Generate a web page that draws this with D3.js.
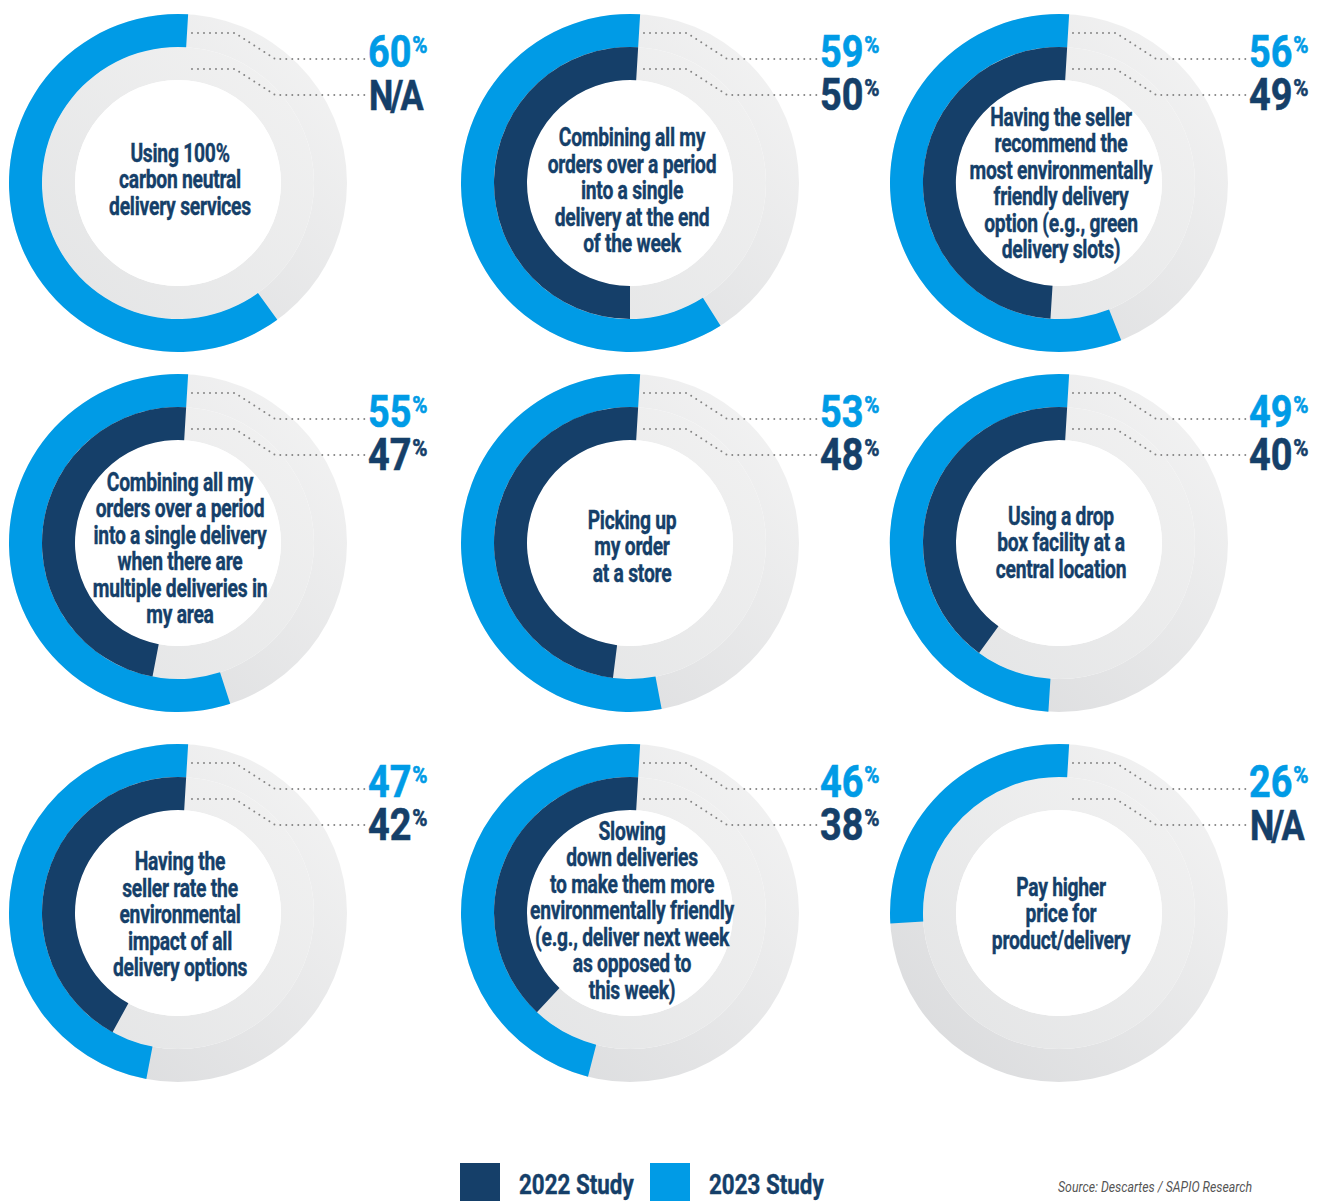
<!DOCTYPE html>
<html lang="en">
<head>
    <meta charset="UTF-8">
    <title>Sustainable delivery options</title>
    <script src="https://d3js.org/d3.v7.min.js"></script>
    <style>
        body { margin: 0; background: #fff; }
        text { font-family: Roboto, "Noto Sans", sans-serif; }
    </style>
</head>
<body>
    <svg id="chart"></svg>

    <script>
        const options = [
            ["Using 100%", "carbon neutral", "delivery services"],
            ["Combining all my", "orders over a period", "into a single", "delivery at the end", "of the week"],
            ["Having the seller", "recommend the", "most environmentally", "friendly delivery", "option (e.g., green", "delivery slots)"],
            ["Combining all my", "orders over a period", "into a single delivery", "when there are", "multiple deliveries in", "my area"],
            ["Picking up", "my order", "at a store"],
            ["Using a drop", "box facility at a", "central location"],
            ["Having the", "seller rate the", "environmental", "impact of all", "delivery options"],
            ["Slowing", "down deliveries", "to make them more", "environmentally friendly", "(e.g., deliver next week", "as opposed to", "this week)"],
            ["Pay higher", "price for", "product/delivery"]
        ];
        const study2023 = [60, 59, 56, 55, 53, 49, 47, 46, 26];
        const study2022 = [null, 50, 49, 47, 48, 40, 42, 38, null];
        const legendLabels = ["2022 Study", "2023 Study"];
        const source = "Source: Descartes / SAPIO Research";

        const navy = "#153f69";
        const blue = "#009be6";

        // layout
        const colX = [178, 630, 1059];
        const rowY = [183, 543, 913];
        const textShift = [-4, 7, 0, 5, 3, -1, 1, -3, 0];
        const rWhite = 103, rMid = 136, rOuter = 169;
        const startA = 0.06;

        const svg = d3.select("#chart")
            .attr("width", 1321)
            .attr("height", 1201);

        const defs = svg.append("defs");
        function grad(id, c0, c1) {
            const g = defs.append("linearGradient").attr("id", id)
                .attr("x1", 0).attr("y1", 1).attr("x2", 1).attr("y2", 0);
            g.append("stop").attr("offset", 0).attr("stop-color", c0);
            g.append("stop").attr("offset", 1).attr("stop-color", c1);
        }
        grad("trackOuter", "#d8d9db", "#f5f5f5");
        grad("trackInner", "#e3e4e5", "#f2f2f2");

        // the bars overshoot their share of the circle by a few degrees
        const angle = d3.scaleLinear().domain([0, 100]).range([0.06, 2 * Math.PI + 0.06]);

        const outerArc = d3.arc().innerRadius(rMid).outerRadius(rOuter);
        const innerArc = d3.arc().innerRadius(rWhite).outerRadius(rMid);

        function condensed(sel, x, y, sx) {
            return sel.append("g").attr("transform", `translate(${x},${y}) scale(${sx},1)`);
        }

        options.forEach((lines, i) => {
            const cx = colX[i % 3], cy = rowY[Math.floor(i / 3)];
            const g = svg.append("g").attr("transform", `translate(${cx},${cy})`);

            // tracks
            g.append("path")
                .attr("d", outerArc({ startAngle: 0, endAngle: 2 * Math.PI }))
                .attr("fill", "url(#trackOuter)");
            g.append("path")
                .attr("d", innerArc({ startAngle: 0, endAngle: 2 * Math.PI }))
                .attr("fill", "url(#trackInner)");
            g.append("circle").attr("r", rWhite).attr("fill", "#fff");

            // bars, running counter-clockwise from the top
            g.append("path")
                .attr("d", outerArc({ startAngle: startA - angle(study2023[i]), endAngle: startA }))
                .attr("fill", blue);
            if (study2022[i] != null) {
                g.append("path")
                    .attr("d", innerArc({ startAngle: startA - angle(study2022[i]), endAngle: startA }))
                    .attr("fill", navy);
            }

            // dotted leaders
            const leader = d3.line();
            [[-150, -124], [-114, -88]].forEach(([y0, y1]) => {
                g.append("path")
                    .attr("d", leader([[14, y0], [57, y0], [97, y1], [188, y1]]))
                    .attr("fill", "none")
                    .attr("stroke", "#858585")
                    .attr("stroke-width", 2)
                    .attr("stroke-linecap", "round")
                    .attr("stroke-dasharray", "0 6");
            });

            // value labels
            [[study2023[i], blue, -116], [study2022[i], navy, -73]].forEach(([v, c, by]) => {
                if (v == null) {
                    condensed(g, 191, by, 0.8).append("text")
                        .attr("fill", c)
                        .attr("font-weight", 700)
                        .attr("font-size", 43)
                        .attr("letter-spacing", -3.5)
                        .attr("stroke", c).attr("stroke-width", 0.6)
                        .text("N/A");
                } else {
                    const t = condensed(g, 190, by, 0.86).append("text")
                        .attr("fill", c)
                        .attr("font-weight", 700)
                        .attr("font-size", 44)
                        .attr("stroke", c).attr("stroke-width", 0.6);
                    t.append("tspan").text(v);
                    t.append("tspan").attr("font-size", 24).attr("dy", -14).attr("dx", 1).text("%");
                }
            });

            // center text
            const n = lines.length;
            lines.forEach((line, k) => {
                const y = textShift[i] + 9 + (k - (n - 1) / 2) * 26.5;
                condensed(g, 2, y, 0.77).append("text")
                    .attr("text-anchor", "middle")
                    .attr("fill", navy)
                    .attr("stroke", navy)
                    .attr("stroke-width", 0.4)
                    .attr("font-weight", 700)
                    .attr("font-size", 25)
                    .attr("letter-spacing", -0.3)
                    .text(line);
            });
        });

        // legend
        const legendColors = [navy, blue];
        const legendX = [460, 650];
        legendLabels.forEach((lab, i) => {
            svg.append("rect")
                .attr("x", legendX[i]).attr("y", 1163)
                .attr("width", 40).attr("height", 40)
                .attr("fill", legendColors[i]);
            condensed(svg, legendX[i] + 59, 1194, 0.8).append("text")
                .attr("fill", navy)
                .attr("stroke", navy)
                .attr("stroke-width", 0.4)
                .attr("font-weight", 700)
                .attr("font-size", 28)
                .text(lab);
        });

        condensed(svg, 1058, 1192, 0.88).append("text")
            .attr("fill", "#555")
            .attr("font-style", "italic")
            .attr("font-size", 14)
            .text(source);
    </script>
</body>
</html>
